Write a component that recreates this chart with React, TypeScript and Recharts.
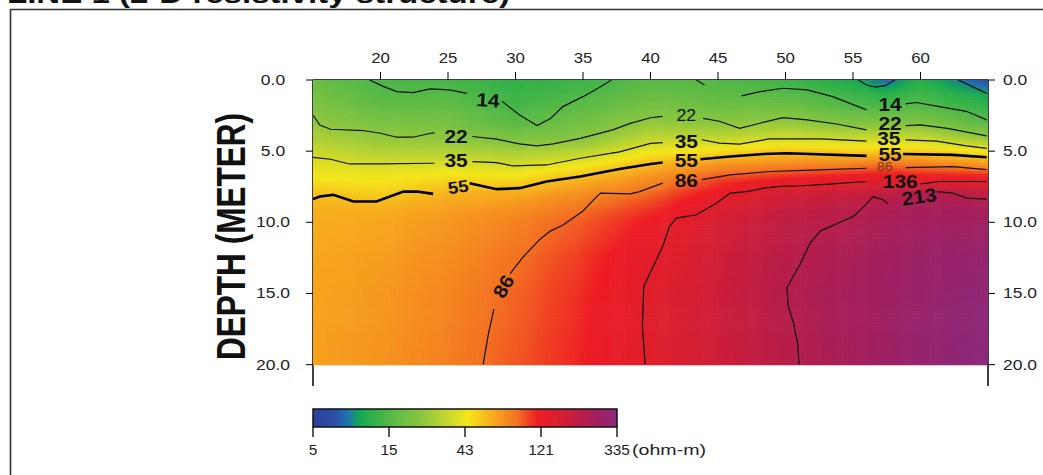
import React from 'react';
import { ComposedChart, Scatter, XAxis, YAxis, ReferenceArea } from 'recharts';

// ---------- text ----------
const TITLE = 'LINE 1 (2-D resistivity structure)';
const Y_LABEL = 'DEPTH (METER)';
const UNIT_LABEL = '(ohm-m)';

// ---------- axes ----------
const X_DOMAIN = [15, 65];
const X_TICKS = [20, 25, 30, 35, 40, 45, 50, 55, 60];
const DEPTH_DOMAIN = [0, 21.5];
const DEPTH_TICKS = [0, 5, 10, 15, 20];

// ---------- resistivity grid (ohm-m), rows = depths, cols = positions ----------
const GRID_X = [15, 20, 25, 30, 35, 40, 45, 50, 55, 57.5, 60, 65];
const GRID_D = [0, 1, 2, 3, 4, 5, 6, 7, 8, 9, 10, 12.5, 15, 17.5, 20];
const RES_D0 = [17, 13.5, 13.2, 11.5, 12.5, 15, 14.2, 12.5, 10, 7.5, 11, 6.5];
const RES_D1 = [18.5, 14.5, 14.5, 12.2, 13.7, 16.5, 15.5, 14.8, 12.2, 11, 12.8, 9.5];
const RES_D2 = [21, 16.5, 16.5, 13.3, 15.8, 19.5, 18, 18.5, 14.8, 14.5, 15.2, 12];
const RES_D3 = [23.5, 19.5, 19, 15, 18.5, 23.5, 22.5, 24, 20.5, 21, 20.5, 14.8];
const RES_D4 = [27, 23.5, 22, 19.5, 21.5, 30, 30, 33, 31, 32, 31, 22.5];
const RES_D5 = [32, 28, 28, 26, 29, 41, 45, 52, 49, 50, 50, 42];
const RES_D6 = [38, 35.5, 37, 35, 42, 57, 70, 75, 80, 86, 82, 70];
const RES_D7 = [44, 42, 47, 46, 58, 72, 98, 115, 130, 136, 125, 130];
const RES_D8 = [53, 49, 58, 60, 72, 87, 122, 160, 175, 190, 222, 190];
const RES_D9 = [58, 59, 64, 70, 83, 103, 143, 180, 200, 225, 245, 245];
const RES_D10 = [60, 62, 68, 77, 92, 115, 155, 190, 218, 240, 258, 270];
const RES_D12 = [62, 65, 72, 83, 102, 133, 163, 203, 240, 262, 278, 295];
const RES_D15 = [63, 67, 75, 88, 107, 139, 168, 212, 250, 268, 285, 310];
const RES_D17 = [64, 68, 77, 90, 110, 139, 168, 208, 252, 270, 290, 320];
const RES_D20 = [64, 69, 78, 92, 111, 138, 167, 206, 252, 272, 292, 325];
const RES_ROWS = [RES_D0, RES_D1, RES_D2, RES_D3, RES_D4, RES_D5, RES_D6, RES_D7, RES_D8, RES_D9, RES_D10, RES_D12, RES_D15, RES_D17, RES_D20];

// ---------- colour scale ----------
const RES_MIN = 5;
const RES_MAX = 335;
const COLORBAR_LABELS = ['5', '15', '43', '121', '335'];
const PALETTE_T = [0, 0.07, 0.11, 0.15, 0.19, 0.27, 0.36, 0.44, 0.51, 0.6, 0.67, 0.74, 0.8, 0.87, 0.94, 1];
const PALETTE_C = ['#2e3f98', '#2c4fa3', '#1f6fb0', '#13a35a', '#2bb04a', '#5fbb46', '#8cc63f', '#c6d72e', '#f4e61a', '#f7a51e', '#f37321', '#ed1c24', '#dd1f2d', '#bd1e45', '#a21f5e', '#882a7f'];

// ---------- contour lines [position, depth] ----------
const C14_A = [[19.2, 0], [20.2, 0.45], [21.2, 0.82], [22.4, 0.89], [23.7, 0.63], [25.1, 0.7], [26.4, 0.94]];
const C14_B = [[29.0, 1.5], [30.3, 2.46], [31.6, 3.2], [32.6, 2.7], [33.5, 1.87], [35, 1.17], [36.3, 0.47], [37.1, 0]];
const C14_C = [[43.4, 0], [44.0, 0.35]];
const C14_D = [[46.75, 1.12], [48.1, 0.82], [49.8, 0.58], [51.6, 0.7], [53.5, 1.17], [56, 2.1]];
const C14_E = [[58.9, 1.68], [59.7, 1.58], [61.4, 1.87], [63.4, 2.2], [64.9, 2.8]];
const C9_A = [[55.4, 0], [56.0, 0.35], [56.7, 0.5], [57.4, 0.4], [58.1, 0]];
const C9_B = [[62.8, 0], [63.8, 0.45], [64.9, 0.94]];
const C22_A = [[15, 2.46], [15.5, 3.16], [16.3, 3.46], [18.7, 3.55], [20, 3.74], [21.2, 4.02], [22.4, 4.02], [23.7, 3.74], [24, 3.72]];
const C22_B = [[26.8, 3.97], [28.6, 4.16], [30.3, 4.49], [31.6, 4.63], [32.8, 4.49], [34.8, 4.1], [37.2, 3.5], [38.5, 3.05], [40, 2.65], [40.9, 2.55]];
const C22_C = [[43.9, 2.7], [45.1, 2.9], [46.6, 3.4], [48.1, 3.04], [49.8, 2.64], [51.6, 2.8], [53.8, 3.09], [56, 3.5]];
const C22_D = [[58.9, 3.2], [60, 3.16], [62, 3.4], [64.9, 3.93]];
const C35_A = [[15, 5.43], [16.3, 5.57], [17.7, 5.9], [20, 5.9], [23.7, 5.85], [24, 5.85]];
const C35_B = [[26.8, 5.73], [28.6, 5.8], [29.8, 6.04], [32.3, 5.97], [34.8, 5.5], [37.7, 5.05], [40, 4.45], [40.9, 4.4]];
const C35_C = [[43.8, 4.2], [45.1, 4.44], [46.6, 4.5], [48.8, 4.14], [52.6, 4.14], [56, 4.3]];
const C35_D = [[58.9, 4.2], [61.2, 4.3], [63.4, 4.63], [64.9, 4.8]];
const C55_A = [[15, 8.37], [15.5, 8.18], [16.5, 8.07], [18, 8.54], [19.7, 8.54], [21.7, 7.84], [22.7, 7.84], [23.9, 8.0]];
const C55_B = [[26.6, 7.25], [28.6, 7.67], [30.3, 7.6], [32.3, 7.13], [34.8, 6.78], [37.7, 6.25], [40, 5.9], [40.9, 5.8]];
const C55_C = [[43.7, 5.57], [45.9, 5.38], [48.4, 5.2], [50.1, 5.15], [56, 5.33]];
const C55_D = [[58.7, 5.2], [62.4, 5.26], [64.9, 5.43]];
const C86_A = [[40.9, 7.25], [39.2, 7.84], [38.5, 8.0], [36.3, 7.95], [35.8, 8.4], [35, 9.2], [33.5, 10.2], [32.6, 10.6], [31.8, 11.2], [30.6, 12.4], [29.6, 13.6]];
const C86_B = [[28.4, 16.1], [28, 17.8], [27.6, 20]];
const C86_C = [[43.8, 7.0], [45.9, 6.67], [48.8, 6.43], [52.6, 6.32], [56, 6.2]];
const C86_D = [[58.9, 6.15], [62.4, 6.08], [64.9, 6.3]];
const C136_A = [[56, 7.13], [53.5, 7.3], [51.3, 7.43], [49.6, 7.48], [48.4, 7.6], [47.1, 7.84], [45.9, 7.95], [44.9, 8.65], [43.4, 9.47], [41.9, 9.7], [41.4, 10.3], [40.9, 11.7], [40.2, 13.1], [39.5, 14.5], [39.4, 17.3], [39.6, 20]];
const C136_B = [[60, 7.3], [61.4, 7.13], [64.4, 7.13], [64.9, 7.15]];
const C213_A = [[57.6, 8.7], [57.2, 8.4], [56.5, 8.2], [55.8, 8.9], [55, 9.6], [54.5, 9.8], [52.6, 10.6], [51.8, 11.5], [51.1, 12.9], [50.1, 14.6], [50.2, 15.9], [50.6, 17.1], [50.9, 18.5], [51, 20]];
const C213_B = [[61.2, 7.84], [62.4, 7.95], [63.4, 8.3], [64.9, 8.37]];

const THIN_SEGMENTS = [C14_A, C14_B, C14_C, C14_D, C14_E, C9_A, C9_B, C22_A, C22_B, C22_C, C22_D, C35_A, C35_B, C35_C, C35_D, C86_A, C86_B, C86_C, C86_D, C136_A, C136_B, C213_A, C213_B];
const THICK_SEGMENTS = [C55_A, C55_B, C55_C, C55_D];

// ---------- contour labels ----------
const LABEL_TEXT = ['14', '22', '35', '55', '86', '22', '35', '55', '86', '14', '22', '35', '55', '86', '136', '213'];
const LABEL_X = [27.96, 25.6, 25.6, 25.75, 29.1, 42.65, 42.65, 42.65, 42.65, 57.75, 57.75, 57.65, 57.75, 57.35, 58.5, 59.9];
const LABEL_D = [1.4, 3.98, 5.62, 7.5, 14.5, 2.46, 4.3, 5.62, 7.02, 1.72, 3.0, 4.08, 5.22, 6.04, 7.12, 8.18];
const LABEL_ANGLE = [4, 0, 0, -8, -60, 0, 0, 0, 0, 0, 0, 0, 0, 0, 0, -8];

// ---------- layout ----------
const W = 1043;
const H = 475;
const MAIN_MARGIN = { top: 50, left: 253, right: 0, bottom: 89 };
const TOP_AXIS_H = 30;
const LEFT_AXIS_W = 60;
const RIGHT_AXIS_W = 55;
const PLOT_W = W - MAIN_MARGIN.left - MAIN_MARGIN.right - LEFT_AXIS_W - RIGHT_AXIS_W;
const PLOT_H = H - MAIN_MARGIN.top - MAIN_MARGIN.bottom - TOP_AXIS_H;
const PX_PER_X = PLOT_W / (X_DOMAIN[1] - X_DOMAIN[0]);
const PX_PER_D = PLOT_H / (DEPTH_DOMAIN[1] - DEPTH_DOMAIN[0]);

const FONT = '"Liberation Sans", Arial, sans-serif';

// ---------- helpers ----------
function hexToRgb(h: string) {
  const n = parseInt(h.slice(1), 16);
  return [(n >> 16) & 255, (n >> 8) & 255, n & 255];
}
const PAL_RGB = PALETTE_C.map(hexToRgb);
const LOG_MIN = Math.log(RES_MIN);
const LOG_SPAN = Math.log(RES_MAX) - LOG_MIN;

function colorForLog(lv: number) {
  let t = (lv - LOG_MIN) / LOG_SPAN;
  t = Math.max(0, Math.min(1, t));
  let i = 0;
  while (i < PALETTE_T.length - 2 && t > PALETTE_T[i + 1]) i++;
  const f = (t - PALETTE_T[i]) / (PALETTE_T[i + 1] - PALETTE_T[i]);
  const a = PAL_RGB[i];
  const b = PAL_RGB[i + 1];
  const r = Math.round(a[0] + (b[0] - a[0]) * f);
  const g = Math.round(a[1] + (b[1] - a[1]) * f);
  const bl = Math.round(a[2] + (b[2] - a[2]) * f);
  return `rgb(${r},${g},${bl})`;
}

const HEAT_CELLS: any[] = [];
for (let j = 0; j < GRID_D.length - 1; j++) {
  for (let i = 0; i < GRID_X.length - 1; i++) {
    HEAT_CELLS.push({
      x: GRID_X[i],
      d: GRID_D[j],
      x1: GRID_X[i + 1],
      d1: GRID_D[j + 1],
      l00: Math.log(RES_ROWS[j][i]),
      l10: Math.log(RES_ROWS[j][i + 1]),
      l01: Math.log(RES_ROWS[j + 1][i]),
      l11: Math.log(RES_ROWS[j + 1][i + 1]),
    });
  }
}

const toPts = (seg: number[][]) => seg.map(([x, d]) => ({ x, d }));
const LABELS = LABEL_TEXT.map((text, i) => ({ x: LABEL_X[i], d: LABEL_D[i], text, angle: LABEL_ANGLE[i], idx: i }));

const HeatCell = (props: any) => {
  const { cx, cy, payload } = props;
  if (cx == null || cy == null || !payload) return <g />;
  const w = (payload.x1 - payload.x) * PX_PER_X;
  const h = (payload.d1 - payload.d) * PX_PER_D;
  const nx = Math.max(1, Math.round(w / 3));
  const ny = Math.max(1, Math.round(h / 3));
  const sw = w / nx;
  const sh = h / ny;
  const rects: any[] = [];
  for (let a = 0; a < nx; a++) {
    for (let b = 0; b < ny; b++) {
      const u = (a + 0.5) / nx;
      const v = (b + 0.5) / ny;
      const lv =
        (1 - u) * (1 - v) * payload.l00 +
        u * (1 - v) * payload.l10 +
        (1 - u) * v * payload.l01 +
        u * v * payload.l11;
      rects.push(
        <rect key={a * 1000 + b} x={cx + a * sw} y={cy + b * sh} width={sw + 0.6} height={sh + 0.6} fill={colorForLog(lv)} />
      );
    }
  }
  return <g>{rects}</g>;
};

const NoShape = () => <g />;

const LabelShape = (props: any) => {
  const { cx, cy, payload } = props;
  if (cx == null || cy == null || !payload) return <g />;
  const i = payload.idx;
  const thinMid = i === 5;
  const smallBrown = i === 13;
  const leftSmall = i === 3;
  const size = smallBrown ? 13 : thinMid ? 16 : leftSmall ? 17 : 19;
  const weight = smallBrown || thinMid ? 'normal' : 'bold';
  const fill = smallBrown ? '#7a3a12' : '#111';
  return (
    <text
      transform={`translate(${cx},${cy}) rotate(${payload.angle}) scale(1.1,1)`}
      textAnchor="middle"
      dy="0.36em"
      fontSize={size}
      fontWeight={weight}
      fontFamily={FONT}
      fill={fill}
    >
      {payload.text}
    </text>
  );
};

const TopTick = (props: any) => {
  const { x, y, payload } = props;
  return (
    <text transform={`translate(${x},${y - 7}) scale(1.2,1)`} textAnchor="middle" fontSize={14} fontFamily={FONT} fill="#222">
      {payload.value}
    </text>
  );
};

const LeftTick = (props: any) => {
  const { x, y, payload } = props;
  return (
    <text transform={`translate(${x - 31},${y + 5}) scale(1.25,1)`} textAnchor="middle" fontSize={14} fontFamily={FONT} fill="#222">
      {Number(payload.value).toFixed(1)}
    </text>
  );
};

const RightTick = (props: any) => {
  const { x, y, payload } = props;
  return (
    <text transform={`translate(${x + 6},${y + 5}) scale(1.25,1)`} textAnchor="start" fontSize={14} fontFamily={FONT} fill="#222">
      {Number(payload.value).toFixed(1)}
    </text>
  );
};

const ColorbarTick = (props: any) => {
  const { x, y, payload } = props;
  const idx = Math.round(payload.value);
  const last = idx === COLORBAR_LABELS.length - 1;
  return (
    <g>
      <text transform={`translate(${x},${y + 16}) scale(1.1,1)`} textAnchor="middle" fontSize={14} fontFamily={FONT} fill="#222">
        {COLORBAR_LABELS[idx]}
      </text>
      {last ? (
        <text x={x + 15} y={y + 16} fontSize={14} fontFamily={FONT} fill="#222" textLength={74} lengthAdjust="spacingAndGlyphs">
          {UNIT_LABEL}
        </text>
      ) : null}
    </g>
  );
};

const CB_ENDS = [{ i: 0, v: 0 }, { i: COLORBAR_LABELS.length - 1, v: 1 }];

export default function App() {
  return (
    <div style={{ position: 'absolute', left: 0, top: 0, width: W, height: H, background: '#fff', overflow: 'hidden' }}>
      <svg width={W} height={H} style={{ position: 'absolute', left: 0, top: 0 }}>
        <defs>
          <linearGradient id="cbGrad" x1="0" y1="0" x2="1" y2="0">
            {PALETTE_T.map((t, k) => (
              <stop key={k} offset={t} stopColor={PALETTE_C[k]} />
            ))}
          </linearGradient>
        </defs>
        <path d={`M10.5,${H} V9.5 H${W}`} fill="none" stroke="#333" strokeWidth={1.6} />
        <text x={7} y={2.5} fontSize={26} fontWeight="bold" fontFamily={FONT} fill="#111" textLength={503} lengthAdjust="spacingAndGlyphs">
          {TITLE}
        </text>
        <text
          transform="translate(245,236.5) rotate(-90)"
          textAnchor="middle"
          fontSize={40}
          fontWeight="bold"
          fontFamily={FONT}
          fill="#111"
          textLength={247}
          lengthAdjust="spacingAndGlyphs"
        >
          {Y_LABEL}
        </text>
      </svg>

      <div style={{ position: 'absolute', left: 0, top: 0 }}>
        <ComposedChart width={W} height={H} margin={MAIN_MARGIN}>
          <XAxis
            xAxisId="x"
            type="number"
            dataKey="x"
            orientation="top"
            domain={X_DOMAIN}
            ticks={X_TICKS}
            interval={0}
            allowDataOverflow
            height={TOP_AXIS_H}
            tickSize={8}
            tick={<TopTick />}
            axisLine={{ stroke: '#000', strokeWidth: 1.5 }}
            tickLine={{ stroke: '#000' }}
          />
          <YAxis
            yAxisId="l"
            type="number"
            dataKey="d"
            orientation="left"
            reversed
            domain={DEPTH_DOMAIN}
            ticks={DEPTH_TICKS}
            interval={0}
            allowDataOverflow
            width={LEFT_AXIS_W}
            tickSize={7}
            tick={<LeftTick />}
            axisLine={{ stroke: '#000', strokeWidth: 1.5 }}
            tickLine={{ stroke: '#000' }}
          />
          <YAxis
            yAxisId="r"
            type="number"
            dataKey="d"
            orientation="right"
            reversed
            domain={DEPTH_DOMAIN}
            ticks={DEPTH_TICKS}
            interval={0}
            allowDataOverflow
            width={RIGHT_AXIS_W}
            tickSize={7}
            tick={<RightTick />}
            axisLine={{ stroke: '#000', strokeWidth: 1.5 }}
            tickLine={{ stroke: '#000' }}
          />
          <Scatter xAxisId="x" yAxisId="l" data={HEAT_CELLS} shape={HeatCell} isAnimationActive={false} legendType="none" />
          {THIN_SEGMENTS.map((seg, k) => (
            <Scatter
              key={'t' + k}
              xAxisId="x"
              yAxisId="l"
              data={toPts(seg)}
              line={{ stroke: '#111', strokeWidth: 1.2, fill: 'none' }}
              lineType="joint"
              shape={NoShape}
              isAnimationActive={false}
              legendType="none"
            />
          ))}
          {THICK_SEGMENTS.map((seg, k) => (
            <Scatter
              key={'k' + k}
              xAxisId="x"
              yAxisId="l"
              data={toPts(seg)}
              line={{ stroke: '#000', strokeWidth: 2.6, fill: 'none' }}
              lineType="joint"
              shape={NoShape}
              isAnimationActive={false}
              legendType="none"
            />
          ))}
          <Scatter xAxisId="x" yAxisId="l" data={LABELS} shape={LabelShape} isAnimationActive={false} legendType="none" />
        </ComposedChart>
      </div>

      <div style={{ position: 'absolute', left: 0, top: 390 }}>
        <ComposedChart width={W} height={85} margin={{ top: 19, left: 313, right: 426, bottom: 18 }}>
          <XAxis
            xAxisId="c"
            type="number"
            dataKey="i"
            domain={[0, COLORBAR_LABELS.length - 1]}
            ticks={COLORBAR_LABELS.map((_, k) => k)}
            interval={0}
            allowDataOverflow
            height={30}
            tickSize={10}
            axisLine={false}
            tickLine={{ stroke: '#000', strokeWidth: 1.3 }}
            tick={<ColorbarTick />}
          />
          <YAxis yAxisId="c" type="number" dataKey="v" domain={[0, 1]} hide allowDataOverflow />
          <Scatter xAxisId="c" yAxisId="c" data={CB_ENDS} shape={NoShape} isAnimationActive={false} legendType="none" />
          <ReferenceArea
            xAxisId="c"
            yAxisId="c"
            x1={0}
            x2={COLORBAR_LABELS.length - 1}
            y1={0}
            y2={1}
            fill="url(#cbGrad)"
            fillOpacity={1}
            stroke="#111"
            strokeWidth={1.5}
            ifOverflow="visible"
          />
        </ComposedChart>
      </div>
    </div>
  );
}
